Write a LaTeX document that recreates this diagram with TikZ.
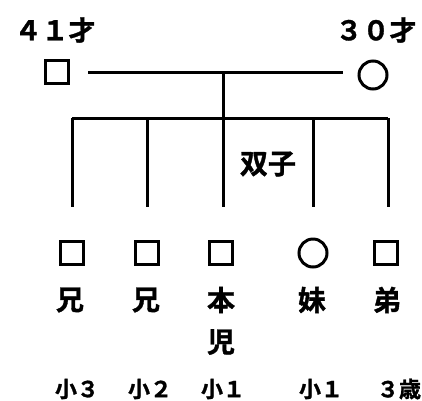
\documentclass[tikz,border=0pt]{standalone}
\usepackage{fontspec}
\newfontfamily\jp{Noto Sans CJK JP}[BoldFont={* Bold},BoldFeatures={FakeBold=1.2}]
\begin{document}
\begin{tikzpicture}[x=1pt,y=-1pt,
  ln/.style={line width=3pt},
  male/.style={draw,line width=3pt,minimum size=23pt,inner sep=0pt},
  female/.style={draw,circle,line width=3pt,minimum size=28pt,inner sep=0pt},
  age/.style={font=\jp\bfseries\fontsize{27}{27}\selectfont,inner sep=0pt},
  rel/.style={font=\jp\bfseries\fontsize{28}{28}\selectfont,inner sep=0pt},
  grade/.style={font=\jp\bfseries\fontsize{22}{22}\selectfont,inner sep=0pt}]
\useasboundingbox (0,0) rectangle (422,400);
\node[age] (fa) at (55,30) {４１才};
\node[age] (ma) at (376,30) {３０才};
\node[male] (f) at (57,72) {};
\node[female] (m) at (373,75) {};
\coordinate (ml) at (88,72);
\coordinate (mr) at (343,72);
\draw[ln] (ml) -- (mr);
\coordinate (top) at (223,72);
\coordinate (mid) at (223,118);
\draw[ln] (top) -- (mid);
\coordinate (b1) at (72,118);
\coordinate (b5) at (388,118);
\draw[ln] (b1) -- (b5);
\foreach \x/\n in {72/1,147/2,223/3,313/4,388/5}{
  \coordinate (t\n) at (\x,118);
  \coordinate (e\n) at (\x,207);
  \draw[ln] (t\n) -- (e\n);
}
\node[rel] (tw) at (268,164) {双子};
\node[male] (c1) at (72,253) {};
\node[male] (c2) at (147,253) {};
\node[male] (c3) at (221,253) {};
\node[female] (c4) at (313,253) {};
\node[male] (c5) at (386,253) {};
\node[rel] (l1) at (70,300) {兄};
\node[rel] (l2) at (146,300) {兄};
\node[rel] (l3) at (221,300) {本};
\node[rel] (l3b) at (221,342) {児};
\node[rel] (l4) at (312,300) {妹};
\node[rel] (l5) at (387,300) {弟};
\node[grade] (g1) at (77,389) {小３};
\node[grade] (g2) at (150,389) {小２};
\node[grade] (g3) at (223,389) {小１};
\node[grade] (g4) at (321,389) {小１};
\node[grade] (g5) at (399,389) {３歳};
\end{tikzpicture}
\end{document}
